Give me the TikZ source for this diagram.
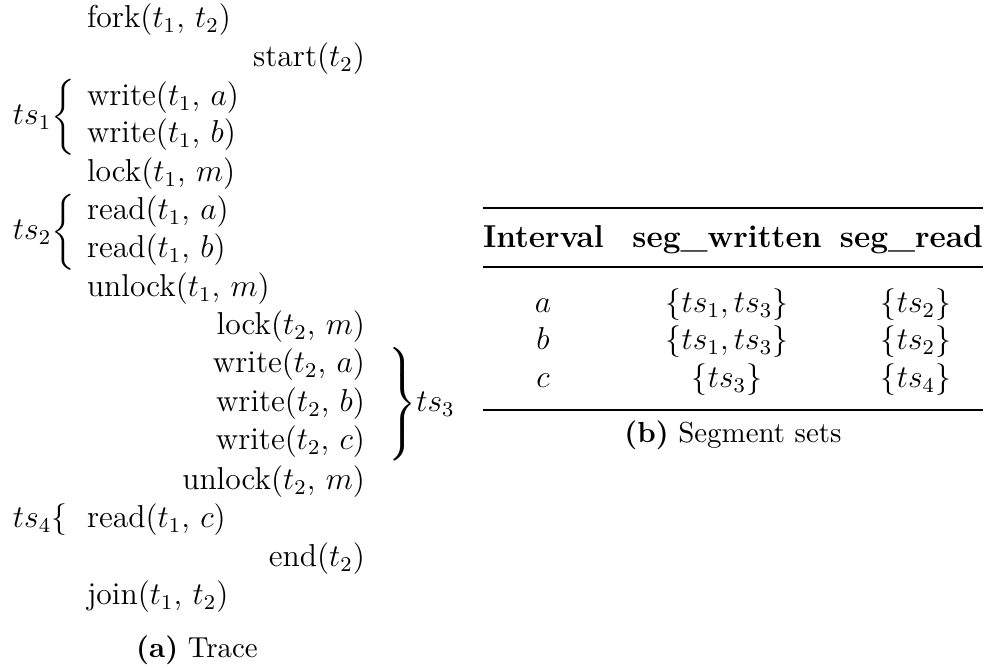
\documentclass[tikz,border=0pt,12pt]{standalone}
\usepackage{amsmath}
\newcommand\bracefill[1]{\vcenter{\hbox{\rule{0pt}{#1}}}}
\tikzset{
  txt/.style={inner sep=0pt, outer sep=0pt},
  lft/.style={txt, anchor=base west},
  rgt/.style={txt, anchor=base east},
  ctr/.style={txt, anchor=base},
  capstyle/.style={txt, anchor=base, font=\small},
  heavyrule/.style={line width=0.94pt},
  lightrule/.style={line width=0.59pt}
}
\begin{document}
\begin{tikzpicture}[x=0.3788pt,y=-0.3788pt]
\useasboundingbox (0,0) rectangle (988,668);
% trace
\node[lft] (fork)   at (87,28)  {fork($t_1$, $t_2$)};
\node[rgt] (start)  at (365,67) {start($t_2$)};
\node[lft] (w1a)    at (87,106) {write($t_1$, $a$)};
\node[lft] (w1b)    at (87,143) {write($t_1$, $b$)};
\node[lft] (l1)     at (87,182) {lock($t_1$, $m$)};
\node[lft] (r1a)    at (87,220) {read($t_1$, $a$)};
\node[lft] (r1b)    at (87,258) {read($t_1$, $b$)};
\node[lft] (u1)     at (87,297) {unlock($t_1$, $m$)};
\node[rgt] (l2)     at (365,335) {lock($t_2$, $m$)};
\node[rgt] (w2a)    at (365,373) {write($t_2$, $a$)};
\node[rgt] (w2b)    at (365,412) {write($t_2$, $b$)};
\node[rgt] (w2c)    at (365,450) {write($t_2$, $c$)};
\node[rgt] (u2)     at (365,490) {unlock($t_2$, $m$)};
\node[lft] (r1c)    at (87,528) {read($t_1$, $c$)};
\node[rgt] (end2)   at (365,567) {end($t_2$)};
\node[lft] (join)   at (87,605) {join($t_1$, $t_2$)};
% braces
\node[lft] (ts1) at (13,125) {\delimitershortfall=0pt\delimiterfactor=1000${ts_1}{\left\{\bracefill{28pt}\right.}$};
\node[lft] (ts2) at (13,240) {\delimitershortfall=0pt\delimiterfactor=1000${ts_2}{\left\{\bracefill{28pt}\right.}$};
\node[lft] (ts3) at (385,412) {\delimitershortfall=0pt\delimiterfactor=1000${\left.\bracefill{42pt}\right\}}ts_3$};
\node[lft] (ts4) at (13,528) {$ts_4\{$};
\node[capstyle] (capa) at (197,658) {\textbf{(a)}\ Trace};
% table
\coordinate (tl) at (483,208);
\coordinate (tr) at (983,208);
\coordinate (ml) at (483,267);
\coordinate (mr) at (983,267);
\coordinate (bl) at (483,410);
\coordinate (br) at (983,410);
\draw[heavyrule] (tl) -- (tr);
\draw[lightrule] (ml) -- (mr);
\draw[heavyrule] (bl) -- (br);
\node[lft] (h1) at (483,248) {\textbf{Interval}};
\node[rgt] (h3) at (983,248) {\textbf{seg\_read}};
\node[ctr] (h2) at (727,248) {\textbf{seg\_written}};
\node[ctr] (a1) at (543,313) {$a$};
\node[ctr] (a2) at (727,313) {$\{ts_1, ts_3\}$};
\node[ctr] (a3) at (916,313) {$\{ts_2\}$};
\node[ctr] (b1) at (543,350) {$b$};
\node[ctr] (b2) at (727,350) {$\{ts_1, ts_3\}$};
\node[ctr] (b3) at (916,350) {$\{ts_2\}$};
\node[ctr] (c1) at (543,388) {$c$};
\node[ctr] (c2) at (727,388) {$\{ts_3\}$};
\node[ctr] (c3) at (916,388) {$\{ts_4\}$};
\node[capstyle] (capb) at (733,443) {\textbf{(b)}\ Segment sets};
\end{tikzpicture}
\end{document}
